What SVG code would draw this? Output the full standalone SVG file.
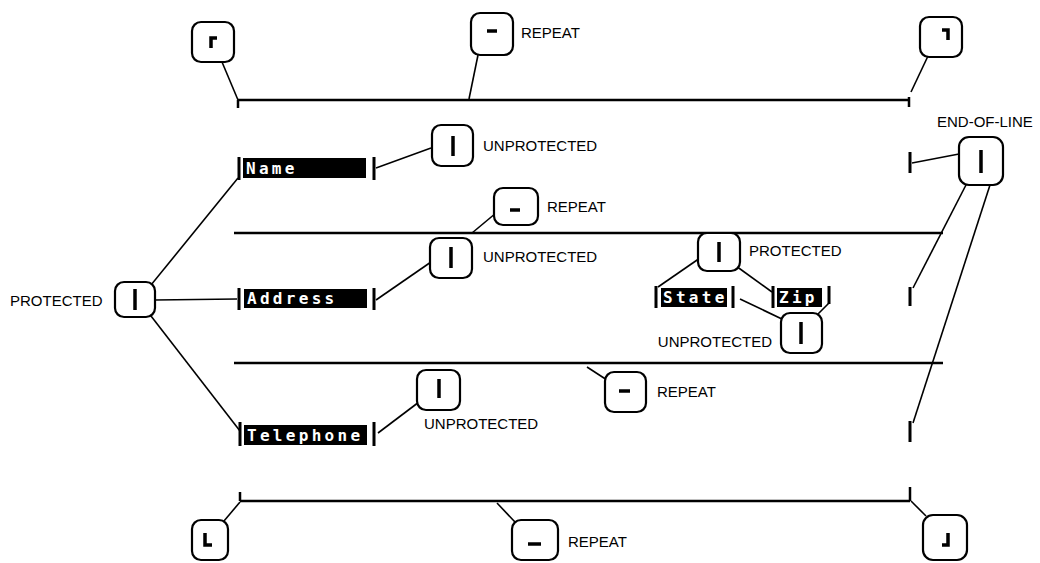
<svg xmlns="http://www.w3.org/2000/svg" width="1040" height="563" viewBox="0 0 1040 563">
<style>
.key{fill:#fff;stroke:#000;stroke-width:2.2}
.g{stroke:#000;stroke-width:3.5;fill:none;stroke-linecap:butt}
.ln{stroke:#000;stroke-width:2.5;fill:none}
.c{stroke:#000;stroke-width:1.6;fill:none}
.bar{stroke:#000;stroke-width:3;fill:none}
.lbl{font-family:"Liberation Sans",Arial,sans-serif;font-size:15px;fill:#000}
.fld{fill:#000}
.ft{font-family:"DejaVu Sans Mono","Liberation Mono",monospace;font-weight:bold;font-size:16px;letter-spacing:3.3px;fill:#fff}
</style>
<rect width="1040" height="563" fill="#fff"/>
<g id="connectors">
<path class="ln" d="M238,100 H909 M238,100 V108 M909,97 V107"/>
<path class="ln" d="M234,233 H943"/>
<path class="ln" d="M234,363 H943"/>
<path class="ln" d="M240,501 H910 M240,492 V501 M910,487 V501"/>
<path class="c" d="M222,62 L238,100"/>
<path class="c" d="M478,55 L469,99"/>
<path class="c" d="M928,56 L911,92"/>
<path class="c" d="M959,154 L912,163"/>
<path class="c" d="M967,183 L913,288"/>
<path class="c" d="M990,185 L913,423"/>
<path class="c" d="M376,168 L431,148"/>
<path class="c" d="M496,213 L472,233"/>
<path class="c" d="M376,300 L431,262"/>
<path class="c" d="M155,300 L237,299"/>
<path class="c" d="M151,285 L238,178"/>
<path class="c" d="M151,316 L240,431"/>
<path class="c" d="M700,258 L658,287"/>
<path class="c" d="M736,266 L772,292"/>
<path class="c" d="M740,299 L784,320"/>
<path class="c" d="M818,314 L829,303"/>
<path class="c" d="M378,433 L419,402"/>
<path class="c" d="M587,367 L607,380"/>
<path class="c" d="M224,521 L240,502"/>
<path class="c" d="M497,503 L515,522"/>
<path class="c" d="M911,501 L926,516"/>
</g>
<g id="key-top-left"><rect class="key" x="192" y="22" width="42" height="40" rx="9"/><path class="g" d="M211,48 V38 H217"/></g>
<g id="key-top-repeat"><rect class="key" x="471" y="13" width="42" height="42" rx="9"/><path class="g" d="M487,31 H497"/><text class="lbl" x="521" y="38">REPEAT</text></g>
<g id="key-top-right"><rect class="key" x="920" y="17" width="42" height="40" rx="9"/><path class="g" d="M942,30 H948 V40"/></g>
<g id="key-eol"><rect class="key" x="959" y="137" width="44" height="48" rx="10"/><path class="g" d="M981,150 V173"/><text class="lbl" x="937" y="127">END-OF-LINE</text></g>
<g id="eol-bars"><path class="bar" d="M910,152 V173 M910,287 V306 M910,421 V442"/></g>
<g id="field-name"><path class="bar" d="M239,157 V180 M374,157 V180"/><rect class="fld" x="243" y="158" width="123" height="20"/><text class="ft" x="246" y="174">Name</text></g>
<g id="key-name-unprotected"><rect class="key" x="432" y="125" width="41" height="41" rx="9"/><path class="g" d="M453,136 V156"/><text class="lbl" x="483" y="151">UNPROTECTED</text></g>
<g id="key-repeat-1"><rect class="key" x="494" y="188" width="44" height="37" rx="9"/><path class="g" d="M510,210 H520"/><text class="lbl" x="547" y="212">REPEAT</text></g>
<g id="key-protected"><rect class="key" x="115" y="282" width="40" height="35" rx="9"/><path class="g" d="M135,289 V310"/><text class="lbl" x="10" y="306">PROTECTED</text></g>
<g id="field-address"><path class="bar" d="M239,288 V310 M374,288 V310"/><rect class="fld" x="244" y="289" width="123" height="19"/><text class="ft" x="247" y="304">Address</text></g>
<g id="key-address-unprotected"><rect class="key" x="430" y="238" width="42" height="40" rx="9"/><path class="g" d="M451,247 V268"/><text class="lbl" x="483" y="262">UNPROTECTED</text></g>
<g id="key-state-protected"><rect class="key" x="698" y="233" width="42" height="38" rx="9"/><path class="g" d="M719,242 V262"/><text class="lbl" x="749" y="256">PROTECTED</text></g>
<g id="field-state"><path class="bar" d="M656,286 V308 M733,286 V308"/><rect class="fld" x="661" y="288" width="66" height="19"/><text class="ft" x="663" y="303">State</text></g>
<g id="field-zip"><path class="bar" d="M773,286 V308 M829,286 V304"/><rect class="fld" x="777" y="288" width="45" height="19"/><text class="ft" x="779" y="303">Zip</text></g>
<g id="key-state-unprotected"><rect class="key" x="781" y="313" width="41" height="40" rx="9"/><path class="g" d="M801,322 V344"/><text class="lbl" x="772" y="347" text-anchor="end">UNPROTECTED</text></g>
<g id="key-repeat-2"><rect class="key" x="605" y="372" width="41" height="40" rx="9"/><path class="g" d="M619,391 H630"/><text class="lbl" x="657" y="397">REPEAT</text></g>
<g id="field-telephone"><path class="bar" d="M240,422 V446 M374,422 V446"/><rect class="fld" x="244" y="425" width="123" height="20"/><text class="ft" x="247" y="441">Telephone</text></g>
<g id="key-telephone-unprotected"><rect class="key" x="417" y="370" width="43" height="40" rx="9"/><path class="g" d="M439,379 V398"/><text class="lbl" x="424" y="429">UNPROTECTED</text></g>
<g id="key-bottom-left"><rect class="key" x="192" y="520" width="36" height="40" rx="9"/><path class="g" d="M205,533 V545 H212"/></g>
<g id="key-bottom-repeat"><rect class="key" x="512" y="520" width="46" height="40" rx="9"/><path class="g" d="M528,544 H541"/><text class="lbl" x="568" y="547">REPEAT</text></g>
<g id="key-bottom-right"><rect class="key" x="923" y="515" width="44" height="45" rx="10"/><path class="g" d="M942,545 H948 V533"/></g>
</svg>
